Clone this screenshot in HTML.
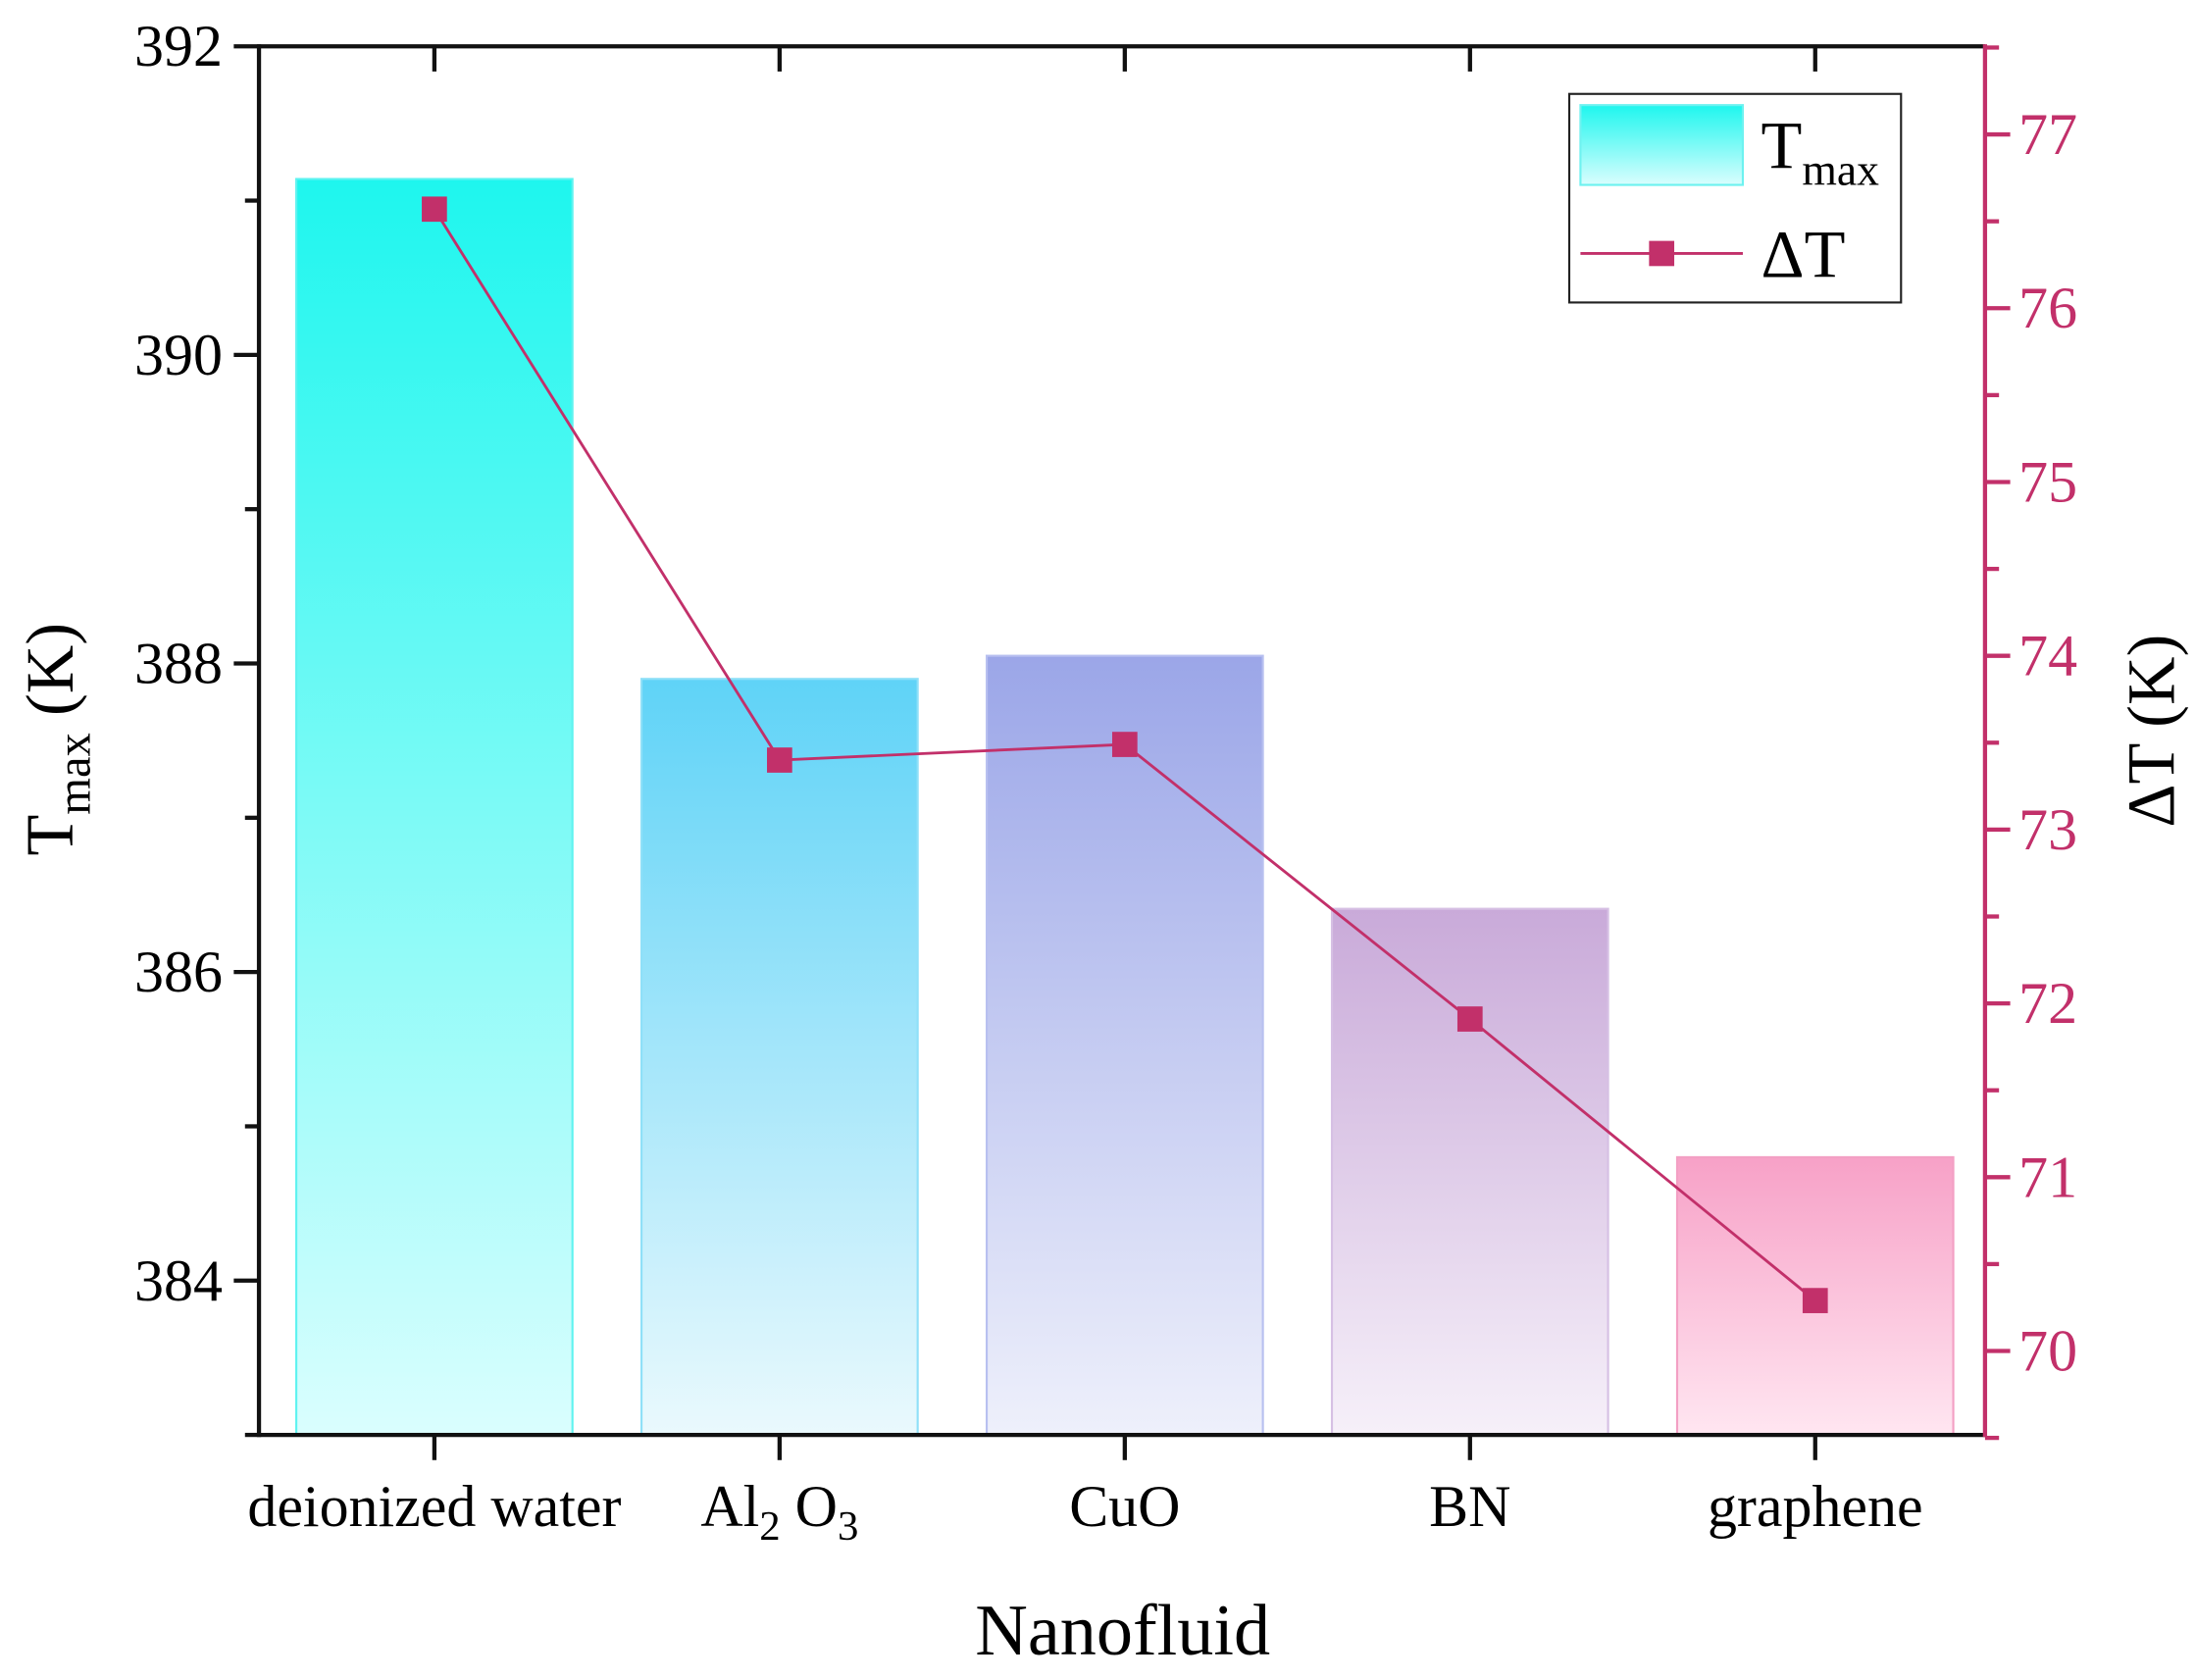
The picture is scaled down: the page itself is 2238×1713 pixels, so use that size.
<!DOCTYPE html>
<html><head><meta charset="utf-8"><style>html,body{margin:0;padding:0;background:#fff}svg{display:block}</style></head>
<body>
<svg id="chart" width="2238" height="1713" viewBox="0 0 1568 1200" xmlns="http://www.w3.org/2000/svg" font-family="'Liberation Serif', serif">
<defs>
<linearGradient id="g0" x1="0" y1="0" x2="0" y2="1"><stop offset="0" stop-color="#1ef6ee"/><stop offset="1" stop-color="#dafefe"/></linearGradient>
<linearGradient id="g1" x1="0" y1="0" x2="0" y2="1"><stop offset="0" stop-color="#5fd3f7"/><stop offset="1" stop-color="#eaf9fd"/></linearGradient>
<linearGradient id="g2" x1="0" y1="0" x2="0" y2="1"><stop offset="0" stop-color="#9ba6e8"/><stop offset="1" stop-color="#eef0fb"/></linearGradient>
<linearGradient id="g3" x1="0" y1="0" x2="0" y2="1"><stop offset="0" stop-color="#c9aad9"/><stop offset="1" stop-color="#f6f0f9"/></linearGradient>
<linearGradient id="g4" x1="0" y1="0" x2="0" y2="1"><stop offset="0" stop-color="#f7a1c7"/><stop offset="1" stop-color="#ffe6f1"/></linearGradient>
<linearGradient id="gl" x1="0" y1="0" x2="0" y2="1"><stop offset="0" stop-color="#1ef6ee"/><stop offset="1" stop-color="#dafefe"/></linearGradient>
</defs>
<g id="bars"></g>
<g id="line"></g>
<g id="axes"></g>
<g>
<rect x="1121" y="67" width="237" height="149" fill="#fff" stroke="#222" stroke-width="1.5"/>
<rect x="1129" y="75" width="116" height="57" fill="url(#gl)" stroke="#6ef2f0" stroke-width="1.5"/>
<text x="1258" y="120" font-size="48">T<tspan font-size="32" dy="12">max</tspan></text>
<line x1="1129" y1="181" x2="1245" y2="181" stroke="#c2306a" stroke-width="2"/>
<rect x="1178" y="172" width="18" height="18" fill="#c2306a"/>
<text x="1258" y="198" font-size="48">ΔT</text>
</g>
<text x="802" y="1182" font-size="52" text-anchor="middle">Nanofluid</text>
<text transform="translate(52,528) rotate(-90)" font-size="48" text-anchor="middle">T<tspan font-size="34" dy="12">max</tspan><tspan dy="-12"> (K)</tspan></text>
<text transform="translate(1553,522) rotate(-90)" font-size="48" text-anchor="middle">ΔT (K)</text>
</svg>
<script>
const categories = ["deionized water", "Al2O3", "CuO", "BN", "graphene"];
const tmaxValues = [391.14, 387.9, 388.05, 386.41, 384.8];
const dtValues = [76.57, 73.4, 73.49, 71.91, 70.29];
const leftTicks = [384, 386, 388, 390, 392];
const rightTicks = [70, 71, 72, 73, 74, 75, 76, 77];
const NS = "http://www.w3.org/2000/svg";
const X0 = 185, X1 = 1418, Y0 = 33, Y1 = 1025;
const LMIN = 383, LMAX = 392, RMIN = 69.517, RMAX = 77.507;
const band = (X1 - X0) / categories.length;
const xc = i => X0 + band * (i + 0.5) + 2;
const yl = v => Y1 - (v - LMIN) / (LMAX - LMIN) * (Y1 - Y0);
const yr = v => Y1 - (v - RMIN) / (RMAX - RMIN) * (Y1 - Y0);
function mk(tag, attrs, parent) { const e = document.createElementNS(NS, tag); for (const k in attrs) e.setAttribute(k, attrs[k]); parent.appendChild(e); return e; }
const strokes = ["#5ff3f0", "#8fe0f8", "#b8c0f0", "#d6c0e4", "#f3a0c4"];
const bars = document.getElementById('bars');
tmaxValues.forEach((v, i) => {
  const w = band * 0.8;
  const r = mk('rect', {x: xc(i) - w / 2, y: yl(v), width: w, height: Y1 - yl(v), fill: 'url(#g' + i + ')', stroke: strokes[i], 'stroke-width': 1.5}, bars);
  
  
});
const lg = document.getElementById('line');
const pl = mk('polyline', {points: dtValues.map((v, i) => xc(i) + ',' + yr(v)).join(' '), fill: 'none', stroke: '#c2306a', 'stroke-width': 2}, lg);


dtValues.forEach((v, i) => {
  const m = mk('rect', {x: xc(i) - 9, y: yr(v) - 9, width: 18, height: 18, fill: '#c2306a'}, lg);
  
  
});
const ax = document.getElementById('axes');
mk('line', {x1: X0, y1: Y0, x2: X1, y2: Y0, stroke: '#111', 'stroke-width': 3}, ax);
mk('line', {x1: X0, y1: Y1, x2: X1, y2: Y1, stroke: '#111', 'stroke-width': 3}, ax);
mk('line', {x1: X0, y1: Y0 - 1.5, x2: X0, y2: Y1 + 1.5, stroke: '#111', 'stroke-width': 3}, ax);
mk('line', {x1: X1, y1: Y0 - 1.5, x2: X1, y2: Y1 + 1.5, stroke: '#c2306a', 'stroke-width': 3}, ax);
categories.forEach((c, i) => {
  mk('line', {x1: xc(i), y1: Y1, x2: xc(i), y2: Y1 + 18, stroke: '#111', 'stroke-width': 3}, ax);
  mk('line', {x1: xc(i), y1: Y0, x2: xc(i), y2: Y0 + 18, stroke: '#111', 'stroke-width': 3}, ax);
  const t = mk('text', {x: xc(i), y: 1090, 'font-size': 42, 'text-anchor': 'middle'}, ax);
  
  
  if (c === "Al2O3") t.innerHTML = 'Al<tspan font-size="30" dy="10">2</tspan><tspan dy="-10"> O</tspan><tspan font-size="30" dy="10">3</tspan>';
  else t.textContent = c;
});
for (let v = LMIN; v <= LMAX; v += 1) {
  const major = leftTicks.includes(v) || v === LMAX;
  mk('line', {x1: X0 - (major ? 18 : 10), y1: yl(v), x2: X0, y2: yl(v), stroke: '#111', 'stroke-width': 3}, ax);
}
leftTicks.forEach(v => {
  const t = mk('text', {x: X0 - 26, y: yl(v) + 14, 'font-size': 42, 'text-anchor': 'end'}, ax);
  
  
  t.textContent = v;
});
for (let v = 69.5; v <= 77.5; v += 0.5) {
  const major = rightTicks.includes(v);
  mk('line', {x1: X1, y1: yr(v), x2: X1 + (major ? 18 : 10), y2: yr(v), stroke: '#c2306a', 'stroke-width': 3}, ax);
}
rightTicks.forEach(v => {
  const t = mk('text', {x: X1 + 24, y: yr(v) + 14, 'font-size': 42, fill: '#c2306a'}, ax);
  
  
  t.textContent = v;
});
</script>
</body></html>
